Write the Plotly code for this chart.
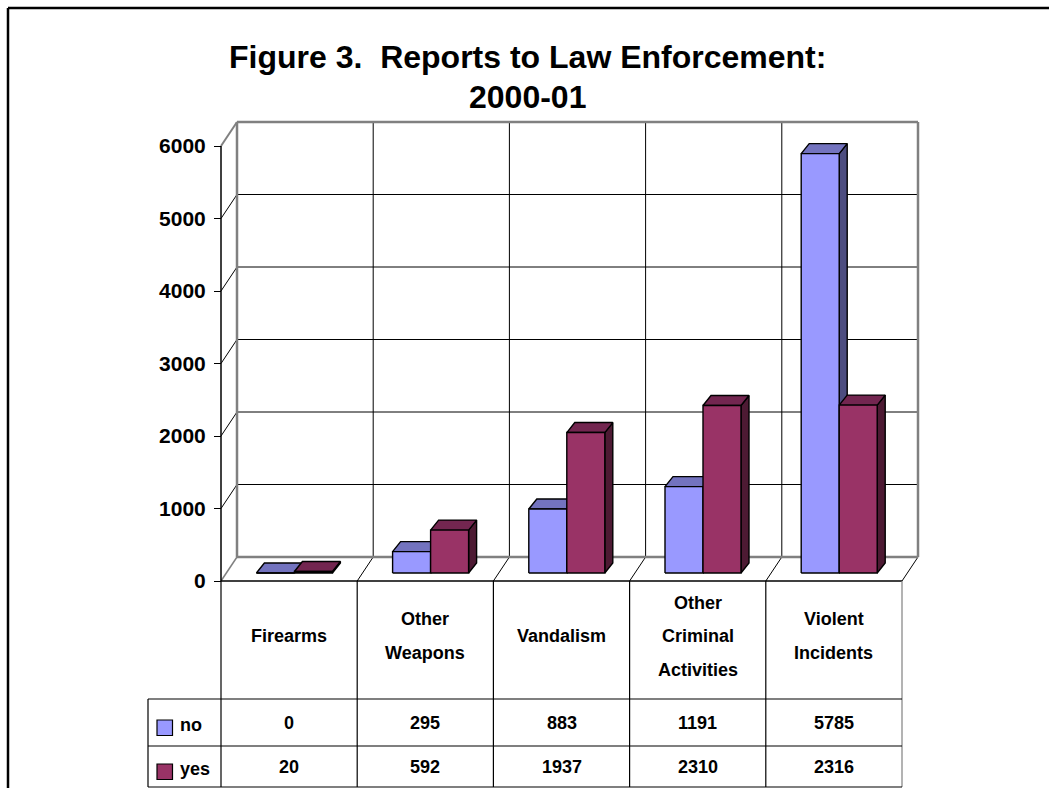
import plotly.graph_objects as go

# ---- data -------------------------------------------------------------
categories = ["Firearms", "Other\nWeapons", "Vandalism",
              "Other\nCriminal\nActivities", "Violent\nIncidents"]
series_names = ["no", "yes"]
no_counts = [0, 295, 883, 1191, 5785]
yes_counts = [20, 592, 1937, 2310, 2316]
y_ticks = [0, 1000, 2000, 3000, 4000, 5000, 6000]

front_colors = ["#9999FF", "#993366"]
top_colors = ["#7373BF", "#732650"]
side_colors = ["#4D4D80", "#4D1A33"]

# ---- geometry (pixels -> axis units) -----------------------------------
W, H = 1049, 788
X0_PX = 221.0      # left edge of the front plane
Y0_PX = 581.0      # zero line of the front plane
CAT_PX = 136.2     # width of one category
VAL_PX = 0.0725    # pixels per count


def ux(px):
    return (px - X0_PX) / CAT_PX


def uy(py):
    return (Y0_PX - py) / VAL_PX


# depth of the wall / floor box
DX = 16 / CAT_PX
DY = 24 / VAL_PX
# bar placement inside the box
BAR_SHIFT_X = 5.3 / CAT_PX
BAR_BASE = 8 / VAL_PX
BAR_W = 38 / CAT_PX
BAR_DX = 8 / CAT_PX
BAR_DY = 10 / VAL_PX

n_cat = len(categories)
y_top = y_ticks[-1]

fig = go.Figure()

# ---- bars as three visible faces each ---------------------------------
series_values = [no_counts, yes_counts]
for s, values in enumerate(series_values):
    fx, fy, tx, ty, sx, sy = [], [], [], [], [], []
    for k, v in enumerate(values):
        x0 = k + 0.5 + BAR_SHIFT_X + (s - 1) * BAR_W
        x1 = x0 + BAR_W
        b = BAR_BASE
        t = BAR_BASE + v
        fx += [x0, x1, x1, x0, x0, None]
        fy += [b, b, t, t, b, None]
        tx += [x0, x1, x1 + BAR_DX, x0 + BAR_DX, x0, None]
        ty += [t, t, t + BAR_DY, t + BAR_DY, t, None]
        sx += [x1, x1, x1 + BAR_DX, x1 + BAR_DX, x1, None]
        sy += [b, t, t + BAR_DY, b + BAR_DY, b, None]
    for xs, ys, col in ((sx, sy, side_colors[s]), (tx, ty, top_colors[s]),
                        (fx, fy, front_colors[s])):
        fig.add_trace(go.Scatter(
            x=xs, y=ys, mode="lines", fill="toself", fillcolor=col,
            line=dict(color="black", width=1.4), hoverinfo="skip",
            showlegend=False, name=series_names[s]))

# ---- walls, floor and gridlines --------------------------------------
shapes = []
GRAY = "#808080"


def seg(x0, y0, x1, y1, color="black", width=1.0):
    shapes.append(dict(type="line", xref="x", yref="y", x0=x0, y0=y0,
                       x1=x1, y1=y1, layer="below",
                       line=dict(color=color, width=width)))


for v in y_ticks[1:-1]:
    seg(DX, v + DY, n_cat + DX, v + DY)          # back wall
    seg(0, v, DX, v + DY)                        # side wall
for k in range(1, n_cat):
    seg(k + DX, DY, k + DX, y_top + DY)          # back wall verticals
for k in range(1, n_cat + 1):
    seg(k, 0, k + DX, DY)                        # floor dividers
seg(0, 0, DX, DY, GRAY, 1.5)
seg(0, y_top, DX, y_top + DY, GRAY, 2)
seg(DX, y_top + DY, n_cat + DX, y_top + DY, GRAY, 2.5)
seg(DX, DY, DX, y_top + DY, GRAY, 2.5)
seg(n_cat + DX, DY, n_cat + DX, y_top + DY, GRAY, 2.5)
seg(DX, DY, n_cat + DX, DY, GRAY, 2.5)
seg(0, 0, 0, y_top, "black", 1.5)               # value axis
seg(0, 0, n_cat, 0, "black", 1.5)               # front floor edge

# ---- data table --------------------------------------------------------
HEAD_BOTTOM = 699
ROW_MID = 746
TABLE_BOTTOM = 787
KEY_LEFT = 148
for k in range(n_cat + 1):
    seg(k, 0, k, uy(TABLE_BOTTOM), GRAY if k == n_cat else "black", 1.2)
for py in (HEAD_BOTTOM, ROW_MID, TABLE_BOTTOM):
    seg(ux(KEY_LEFT), uy(py), n_cat, uy(py), "black", 1.2)
seg(ux(KEY_LEFT), uy(HEAD_BOTTOM), ux(KEY_LEFT), uy(TABLE_BOTTOM), "black", 1.2)

# outer chart-area border
seg(ux(8), uy(8), ux(W + 2), uy(8), "black", 2.5)
seg(ux(8), uy(8), ux(8), uy(H + 2), "black", 2.5)

annotations = []
LABEL_FONT = dict(family="Liberation Sans, Arial", size=18, color="black",
                  weight="bold")

# category headers
for k, label in enumerate(categories):
    lines = label.split("\n")
    n = len(lines)
    for i, line in enumerate(lines):
        py = 636 + (i - (n - 1) / 2) * 33.5
        annotations.append(dict(x=k + 0.5, y=uy(py), xref="x", yref="y",
                                text=line, showarrow=False, font=LABEL_FONT,
                                xanchor="center", yanchor="middle"))

# value rows with legend keys
row_centers = [722.5, 767]
key_tops = [720, 764]
for s, values in enumerate(series_values):
    for k, v in enumerate(values):
        annotations.append(dict(x=k + 0.5, y=uy(row_centers[s]), xref="x",
                                yref="y", text=str(v), showarrow=False,
                                font=LABEL_FONT, xanchor="center",
                                yanchor="middle"))
    shapes.append(dict(type="rect", xref="x", yref="y",
                       x0=ux(157), x1=ux(172.5),
                       y0=uy(key_tops[s]), y1=uy(key_tops[s] + 15.5),
                       fillcolor=front_colors[s],
                       line=dict(color="black", width=1.2)))
    annotations.append(dict(x=ux(178), y=uy(row_centers[s] + 2), xref="x",
                            yref="y", text=series_names[s], showarrow=False,
                            font=LABEL_FONT, xanchor="left",
                            yanchor="middle"))

# title
TITLE_FONT = dict(family="Liberation Sans, Arial", size=32, color="black",
                  weight="bold")
for text, py in (("Figure 3.&nbsp; Reports to Law Enforcement:", 57),
                 ("2000-01", 97)):
    annotations.append(dict(x=ux(527), y=uy(py), xref="x", yref="y",
                            text=text, showarrow=False, font=TITLE_FONT,
                            xanchor="center", yanchor="middle"))

fig.update_layout(
    width=W, height=H,
    margin=dict(l=0, r=0, t=0, b=0),
    paper_bgcolor="white", plot_bgcolor="white",
    showlegend=False,
    shapes=shapes,
    annotations=annotations,
    xaxis=dict(range=[ux(0), ux(W)], visible=False, fixedrange=True),
    yaxis=dict(range=[uy(H), uy(0)], anchor="free", position=X0_PX / W,
               tickvals=y_ticks, ticktext=[str(t) for t in y_ticks],
               ticks="outside", ticklen=7, tickwidth=1.2, tickcolor="black",
               ticklabelstandoff=4,
               showgrid=False, zeroline=False, showline=False,
               tickfont=dict(family="Liberation Sans, Arial", size=21,
                             color="black", weight="bold"),
               fixedrange=True),
)

fig.write_html("out.html")
